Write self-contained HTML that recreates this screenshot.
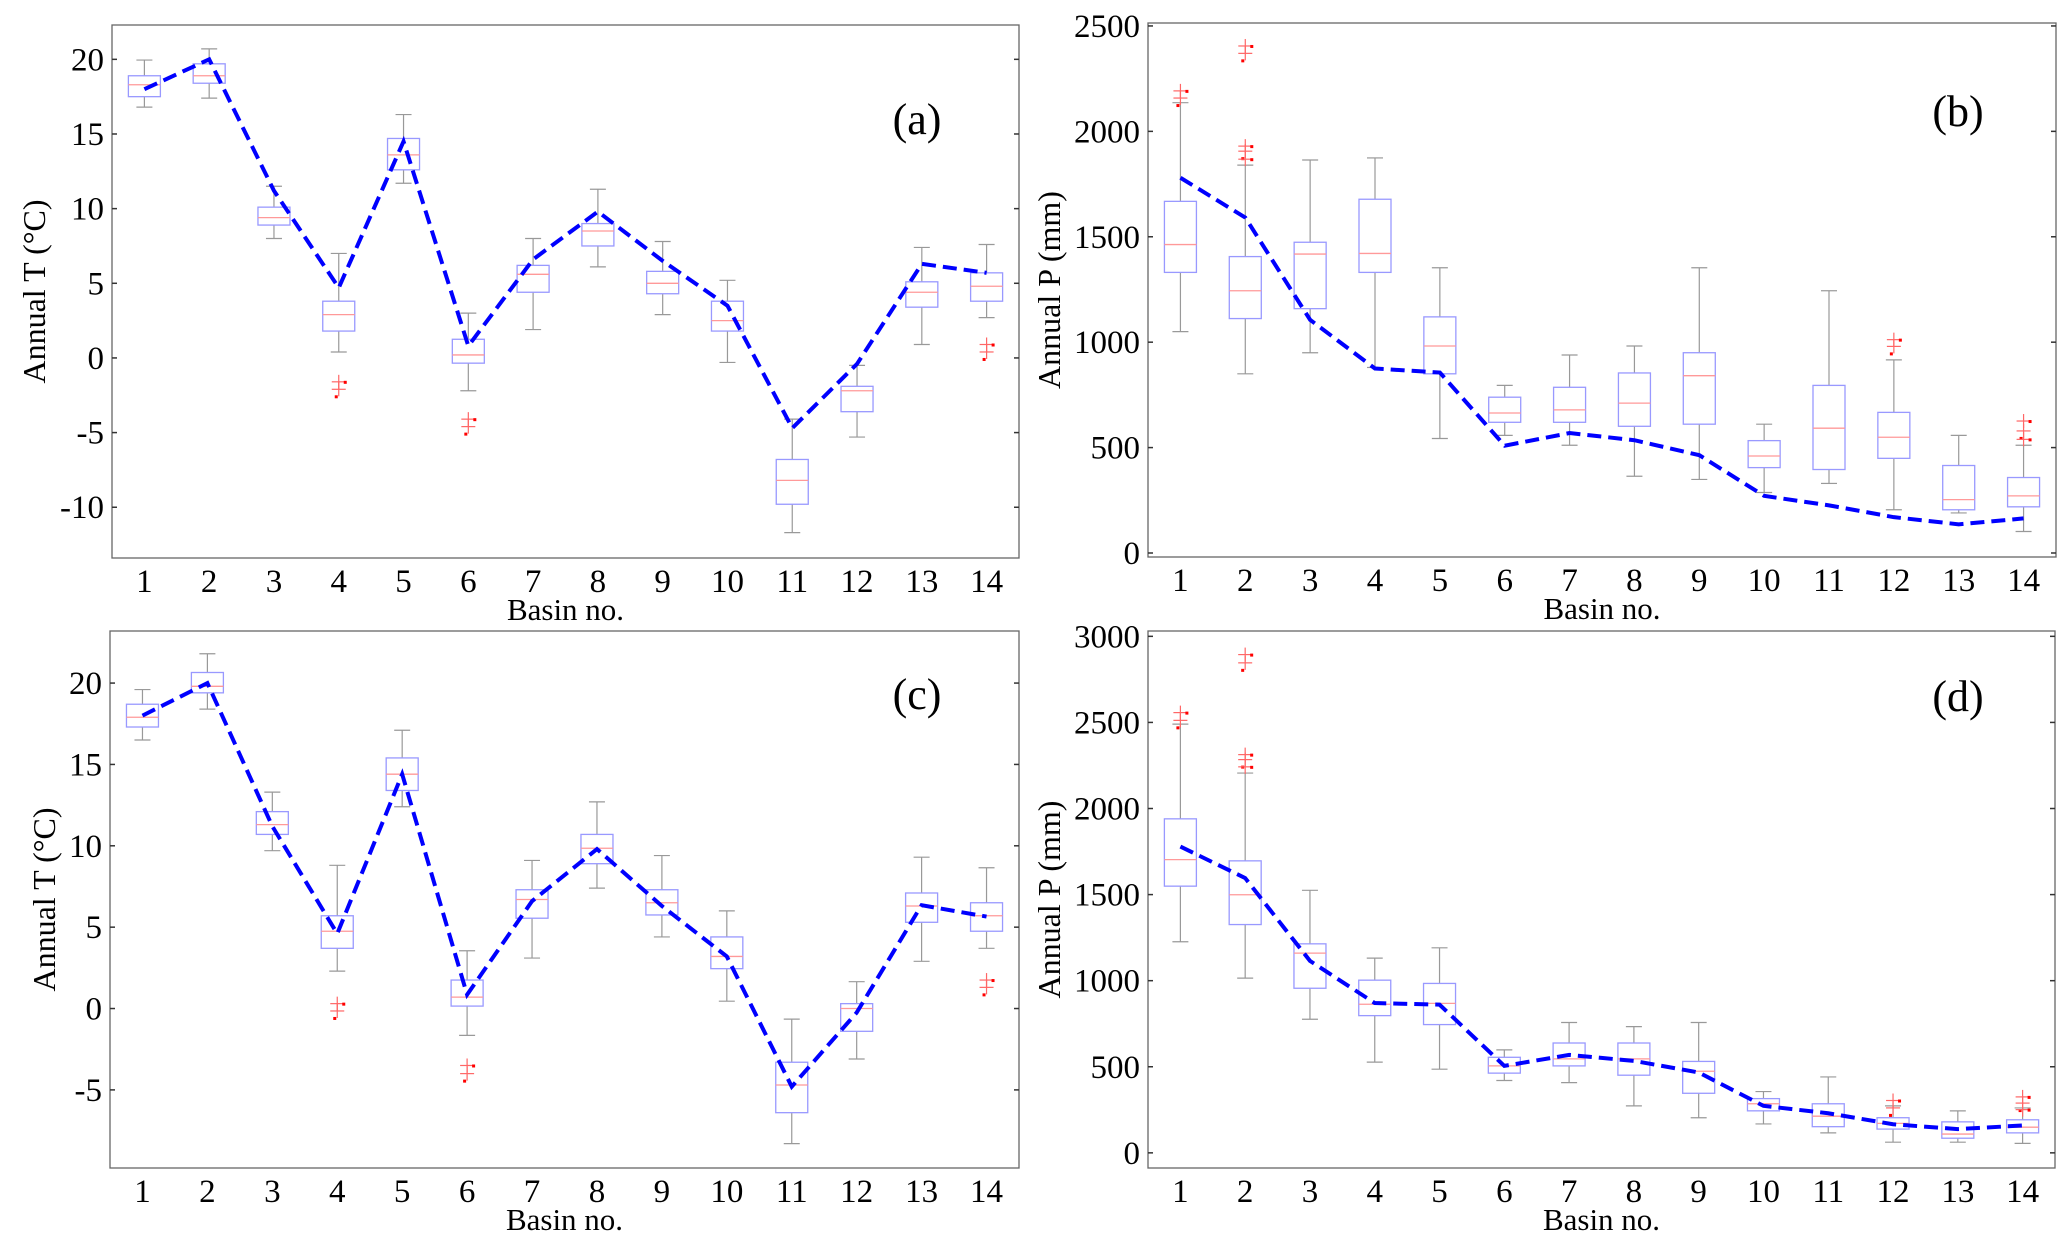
<!DOCTYPE html>
<html><head><meta charset="utf-8">
<style>
html,body{margin:0;padding:0;background:#fff;}
svg{display:block;}
text{font-family:"Liberation Serif",serif;fill:#000;}
</style></head>
<body>
<svg id="chart" width="2066" height="1233" viewBox="0 0 2066 1233" xmlns="http://www.w3.org/2000/svg"></svg>
<script>
const categories = [1,2,3,4,5,6,7,8,9,10,11,12,13,14];
// Panel a
const aLow = [16.8,17.4,8.0,0.4,11.7,-2.2,1.9,6.1,2.9,-0.3,-11.7,-5.3,0.9,2.7];
const aQ1 = [17.5,18.4,8.9,1.8,12.6,-0.35,4.4,7.5,4.3,1.8,-9.8,-3.6,3.4,3.8];
const aMed = [18.3,18.9,9.4,2.9,13.6,0.2,5.6,8.5,5.0,2.5,-8.2,-2.2,4.4,4.8];
const aQ3 = [18.9,19.7,10.1,3.8,14.7,1.25,6.2,9.0,5.8,3.8,-6.8,-1.9,5.1,5.7];
const aHigh = [19.95,20.7,11.5,7.0,16.3,3.0,8.0,11.3,7.8,5.2,-4.1,-0.5,7.4,7.6];
const aOut = [[],[],[],[-1.6,-2.1],[],[-4.1,-4.6],[],[],[],[],[],[],[],[0.9,0.4]];
const aLine = [18.0,20.0,11.2,4.7,14.5,0.8,6.6,9.8,6.5,3.5,-4.7,-0.4,6.3,5.7];
const aTicks = [-10,-5,0,5,10,15,20];
// Panel b
const bLow = [1050,850,950,880,543,558,511,364,349,287,330,205,190,102];
const bQ1 = [1331,1112,1159,1331,850,620,620,601,611,405,396,449,205,219];
const bMed = [1463,1244,1418,1421,982,664,679,711,841,460,592,549,253,271];
const bQ3 = [1668,1406,1474,1678,1120,739,786,854,950,533,795,667,415,358];
const bHigh = [2136,1840,1864,1874,1353,795,939,982,1353,611,1244,916,558,511];
const bOut = [[2192,2158],[2405,2370,1930,1906,1868],[],[],[],[],[],[],[],[],[],[1012,980],[],[626,579,539]];
const bLine = [1780,1591,1106,875,856,509,569,535,464,271,226,170,136,164];
const bTicks = [0,500,1000,1500,2000,2500];
// Panel c
const cLow = [16.5,18.4,9.7,2.3,12.4,-1.65,3.1,7.4,4.4,0.45,-8.3,-3.1,2.9,3.7];
const cQ1 = [17.3,19.4,10.7,3.7,13.4,0.15,5.55,8.9,5.75,2.45,-6.4,-1.4,5.3,4.75];
const cMed = [17.9,19.8,11.3,4.75,14.4,0.7,6.7,9.85,6.5,3.2,-4.7,0,6.3,5.7];
const cQ3 = [18.7,20.65,12.1,5.7,15.4,1.75,7.3,10.7,7.3,4.4,-3.3,0.3,7.1,6.5];
const cHigh = [19.6,21.8,13.3,8.8,17.1,3.55,9.1,12.7,9.4,6.0,-0.65,1.65,9.3,8.65];
const cOut = [[],[],[],[0.3,-0.15],[],[-3.5,-4.0],[],[],[],[],[],[],[],[1.75,1.3]];
const cLine = [18.0,20.0,11.2,4.6,14.4,0.85,6.6,9.8,6.3,3.2,-4.8,-0.25,6.35,5.65];
const cTicks = [-5,0,5,10,15,20];
// Panel d
const dLow = [1226,1015,776,527,486,420,408,273,204,168,116,62,62,55];
const dQ1 = [1549,1326,956,797,745,463,505,451,346,244,152,138,85,116];
const dMed = [1703,1499,1160,863,868,505,546,546,474,285,213,171,109,149];
const dQ3 = [1940,1696,1214,1003,984,555,638,638,531,315,285,204,180,192];
const dHigh = [2490,2206,1525,1131,1191,598,757,733,757,356,441,273,244,261];
const dOut = [[2557,2512],[2894,2846,2313,2284,2242],[],[],[],[],[],[],[],[],[],[304,261],[],[325,289,251]];
const dLine = [1779,1596,1115,870,861,505,569,534,467,273,230,166,138,159];
const dTicks = [0,500,1000,1500,2000,2500,3000];

const NS="http://www.w3.org/2000/svg";
const svg=document.getElementById('chart');
function mk(tag,attrs,parent,txt){const e=document.createElementNS(NS,tag);for(const k in attrs)e.setAttribute(k,attrs[k]);if(txt!==undefined)e.textContent=txt;(parent||svg).appendChild(e);return e;}

function panel(p){
  const g=mk('g',{});
  
  
  const xs=v=>p.L+(v-0.5)/14*(p.R-p.L);
  const ys=v=>p.B-(v-p.ymin)/(p.ymax-p.ymin)*(p.B-p.T);
  const fr=mk('rect',{x:p.L,y:p.T,width:p.R-p.L,height:p.B-p.T,fill:'none',stroke:'#666','stroke-width':1.3},g);
  
  
  p.ticks.forEach(t=>{
    const y=ys(t);
    mk('line',{x1:p.L,x2:p.L+5,y1:y,y2:y,stroke:'#333','stroke-width':1.5},g);
    mk('line',{x1:p.R-5,x2:p.R,y1:y,y2:y,stroke:'#333','stroke-width':1.5},g);
    const tl=mk('text',{x:p.L-8,y:y+11,'text-anchor':'end','font-size':33},g,String(t));
    
    
  });
  categories.forEach((c,i)=>{
    const x=xs(c);
    const tl=mk('text',{x:x,y:p.B+34,'text-anchor':'middle','font-size':33},g,String(c));
    
    
    const bg=mk('g',{},g);
    
    
    const hw=16, cw=8;
    mk('line',{x1:x,x2:x,y1:ys(p.high[i]),y2:ys(p.q3[i]),stroke:'#999','stroke-width':1.2},bg);
    mk('line',{x1:x,x2:x,y1:ys(p.q1[i]),y2:ys(p.low[i]),stroke:'#999','stroke-width':1.2},bg);
    mk('line',{x1:x-cw,x2:x+cw,y1:ys(p.high[i]),y2:ys(p.high[i]),stroke:'#999','stroke-width':1.2},bg);
    mk('line',{x1:x-cw,x2:x+cw,y1:ys(p.low[i]),y2:ys(p.low[i]),stroke:'#999','stroke-width':1.2},bg);
    mk('rect',{x:x-hw,y:ys(p.q3[i]),width:2*hw,height:ys(p.q1[i])-ys(p.q3[i]),fill:'none',stroke:'#9999ff','stroke-width':1.3},bg);
    mk('line',{x1:x-hw,x2:x+hw,y1:ys(p.med[i]),y2:ys(p.med[i]),stroke:'#ff9999','stroke-width':1.3},bg);
    p.out[i].forEach((o,k)=>{
      const y=ys(o);
      const og=mk('g',{},bg);
      
      
      mk('line',{x1:x-7,x2:x+7,y1:y,y2:y,stroke:'#ff6666','stroke-width':1.2},og);
      mk('line',{x1:x,x2:x,y1:y-7,y2:y+7,stroke:'#ff6666','stroke-width':1.2},og);
      mk('rect',{x:x+(k%2?-4:5),y:y+(k%2?6:-1),width:3,height:3,fill:'#ff0000'},og);
    });
  });
  const pts=p.line.map((v,i)=>xs(categories[i])+','+ys(v)).join(' ');
  const pl=mk('polyline',{points:pts,fill:'none',stroke:'#0000ff','stroke-width':4,'stroke-dasharray':'14,7'},g);
  
  
  const xt=mk('text',{x:(p.L+p.R)/2,y:p.B+62,'text-anchor':'middle','font-size':31},g,'Basin no.');
  
  
  const cy=(p.T+p.B)/2;
  const yt=mk('text',{x:p.yx,y:cy,'text-anchor':'middle','font-size':32,transform:'rotate(-90 '+p.yx+' '+cy+')'},g,p.ytitle);
  
  
  const lb=mk('text',{x:p.lx,y:p.ly,'text-anchor':'middle','font-size':44},g,'('+p.id+')');
  
  
}
panel({id:'a',L:112,R:1019,T:25,B:558,ymin:-13.4,ymax:22.3,ticks:aTicks,low:aLow,q1:aQ1,med:aMed,q3:aQ3,high:aHigh,out:aOut,line:aLine,ytitle:'Annual T (°C)',yx:45,lx:917,ly:134});
panel({id:'b',L:1148,R:2056,T:23,B:557,ymin:-19,ymax:2514,ticks:bTicks,low:bLow,q1:bQ1,med:bMed,q3:bQ3,high:bHigh,out:bOut,line:bLine,ytitle:'Annual P (mm)',yx:1060,lx:1958,ly:126});
panel({id:'c',L:110,R:1019,T:631,B:1168,ymin:-9.8,ymax:23.2,ticks:cTicks,low:cLow,q1:cQ1,med:cMed,q3:cQ3,high:cHigh,out:cOut,line:cLine,ytitle:'Annual T (°C)',yx:55,lx:917,ly:709});
panel({id:'d',L:1148,R:2055,T:631,B:1168,ymin:-88,ymax:3031,ticks:dTicks,low:dLow,q1:dQ1,med:dMed,q3:dQ3,high:dHigh,out:dOut,line:dLine,ytitle:'Annual P (mm)',yx:1060,lx:1958,ly:711});
</script>
</body></html>
